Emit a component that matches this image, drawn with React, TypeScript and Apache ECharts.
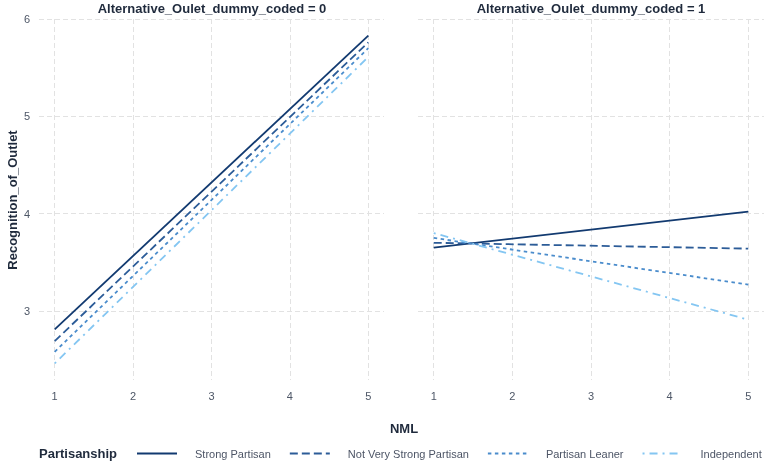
import React, { useEffect, useRef } from "react";
import * as echarts from "echarts";

const groups = ["Strong Partisan", "Not Very Strong Partisan", "Partisan Leaner", "Independent"];
const nml = [1, 5];
const panel0Start = [2.81, 2.69, 2.58, 2.46];
const panel0End = [5.83, 5.76, 5.7, 5.61];
const panel1Start = [3.65, 3.7, 3.75, 3.8];
const panel1End = [4.02, 3.64, 3.27, 2.91];
const xTicks = [1, 2, 3, 4, 5];
const yTicks = [3, 4, 5, 6];
const panelTitles = ["Alternative_Oulet_dummy_coded = 0", "Alternative_Oulet_dummy_coded = 1"];

const colors = ["#123a70", "#2c5c98", "#4a8ccc", "#84c6f2"];
const dashes: any[] = ["solid", [8, 4], [3.5, 3.5], [2, 5, 8, 5]];

export default function App() {
  const ref = useRef<HTMLDivElement>(null);
  useEffect(() => {
    document.body.style.margin = "0";
    const chart = echarts.init(ref.current!, null, { renderer: "svg" });
    const font = "Liberation Sans, Arial, sans-serif";
    const grid = [
      { left: 39, top: 19, width: 345, height: 361 },
      { left: 418, top: 19, width: 346, height: 361 },
    ];
    const split = { show: true, lineStyle: { color: "#e2e2e2", type: [5, 3] as any, width: 1 } };
    const xAxis = [0, 1].map((i) => ({
      type: "value",
      gridIndex: i,
      min: 0.8,
      max: 5.2,
      axisLine: { show: false },
      axisTick: { show: false, customValues: xTicks },
      axisLabel: { customValues: xTicks, color: "#4d5666", fontSize: 11, fontFamily: font, margin: 10 },
      splitLine: split,
    }));
    const yAxis = [0, 1].map((i) => ({
      type: "value",
      gridIndex: i,
      min: 2.29,
      max: 6.0,
      axisLine: { show: false },
      axisTick: { show: false, customValues: yTicks },
      axisLabel: { show: i === 0, customValues: yTicks, color: "#4d5666", fontSize: 11, fontFamily: font, margin: 9 },
      splitLine: split,
    }));
    const series: any[] = [];
    [[panel0Start, panel0End], [panel1Start, panel1End]].forEach(([s, e], p) => {
      groups.forEach((g, k) => {
        series.push({
          type: "line",
          name: g,
          xAxisIndex: p,
          yAxisIndex: p,
          data: [[nml[0], s[k]], [nml[1], e[k]]],
          symbol: "none",
          color: colors[k],
          lineStyle: { color: colors[k], width: 1.8, type: dashes[k] },
        });
      });
    });
    chart.setOption({
      animation: false,
      grid,
      xAxis,
      yAxis,
      series,
      legend: {
        data: groups,
        left: 131,
        top: 443,
        width: 640,
        itemWidth: 40,
        itemHeight: 14,
        itemGap: 18,
        itemStyle: { opacity: 0 },
        textStyle: { fontSize: 11, color: "#4d5566", fontFamily: font, padding: [0, 0, 0, 13] },
      },
      graphic: [
        ...panelTitles.map((t, i) => ({
          type: "text",
          x: i === 0 ? 212 : 591,
          y: 8,
          style: { text: t, fontSize: 13, fontWeight: "bold", fill: "#1f2a3c", fontFamily: font, textAlign: "center", textVerticalAlign: "middle" },
        })),
        {
          type: "text",
          x: 12,
          y: 200,
          rotation: Math.PI / 2,
          style: { text: "Recognition_of_Outlet", fontSize: 13, fontWeight: "bold", fill: "#1f2a3c", fontFamily: font, textAlign: "center", textVerticalAlign: "middle" },
        },
        {
          type: "text",
          x: 404,
          y: 428,
          style: { text: "NML", fontSize: 13, fontWeight: "bold", fill: "#1f2a3c", fontFamily: font, textAlign: "center", textVerticalAlign: "middle" },
        },
        {
          type: "text",
          x: 39,
          y: 453,
          style: { text: "Partisanship", fontSize: 13, fontWeight: "bold", fill: "#1f2a3c", fontFamily: font, textAlign: "left", textVerticalAlign: "middle" },
        },
      ],
    });
    return () => chart.dispose();
  }, []);
  return <div ref={ref} style={{ position: "fixed", left: 0, top: 0, width: 767, height: 467 }} />;
}
